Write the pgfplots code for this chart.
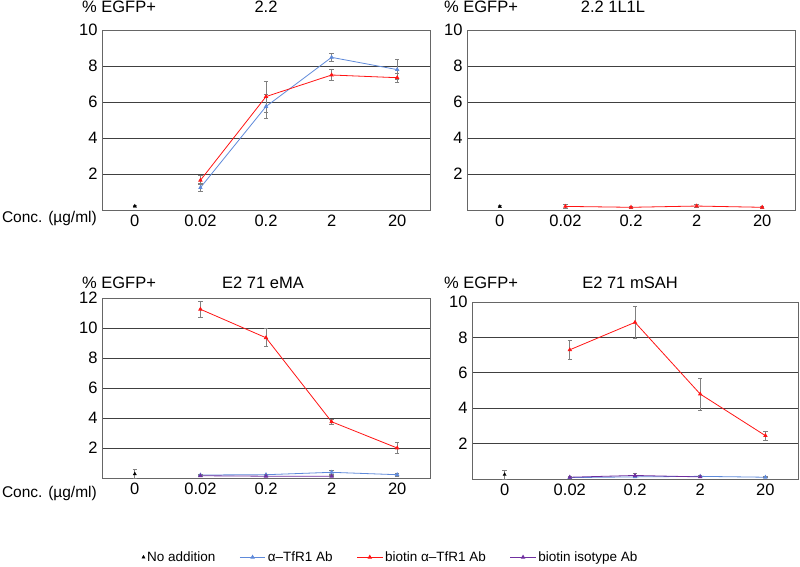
\documentclass[border=0pt]{standalone}
\usepackage{fontspec}
\setmainfont{Liberation Sans}
\usepackage{pgfplots}
\pgfplotsset{compat=1.18}

\definecolor{cblue}{RGB}{95,138,218}
\definecolor{cred}{RGB}{255,20,20}
\definecolor{cpurp}{RGB}{112,48,160}

\pgfplotsset{
 panel/.style={
  scale only axis, width=328pt, height=180pt, anchor=south west,
  xmin=-0.5, xmax=4.5, ymin=0,
  xtick={0,...,4}, xticklabels={0,0.02,0.2,2,20},
  major tick length=0pt,
  ymajorgrids, grid style={black!75, line width=0.8pt},
  axis line style={black!60, line width=0.9pt},
  tick label style={font=\fontsize{16.5}{18}\selectfont},
  /pgf/number format/assume math mode=true,
  xticklabel style={yshift=-1pt},
  yticklabel style={xshift=-1pt},
  clip=false,
  legend image code/.code={\draw[mark repeat=2,mark phase=2,##1] plot coordinates {(0cm,0cm) (0.45cm,0cm) (0.9cm,0cm)};},
 },
 eb/.style={error bars/.cd, y dir=both, y explicit,
   error bar style={black!50, line width=0.7pt},
   error mark options={rotate=90, black!50, mark size=2.2pt, line width=0.7pt}},
 noadd/.style={black, only marks, mark=triangle*, mark size=1.8pt, eb},
 sblue/.style={cblue, line width=0.8pt, mark=triangle*, mark size=1.8pt, eb},
 sred/.style={cred, line width=0.8pt, mark=triangle*, mark size=1.8pt, eb},
 spurp/.style={cpurp, line width=0.8pt, mark=triangle*, mark size=1.8pt, eb},
}

\begin{document}
\begin{tikzpicture}
\path[use as bounding box] (0,0) rectangle (800pt,566pt);
\tikzset{lab/.style={font=\fontsize{16.5}{18}\selectfont, inner sep=0pt}}

% Panel 1: 2.2
\begin{axis}[panel, at={(102pt,356pt)}, ymax=10, ytick={2,4,6,8,10}]
\addplot[noadd] table[y error=e] {
x y e
0 0.22 0.06
};
\addplot[sblue] table[y error=e] {
x y e
1 1.24 0.22
2 5.75 0.65
3 8.48 0.22
4 7.80 0.55
};
\addplot[sred] table[y error=e] {
x y e
1 1.65 0.25
2 6.30 0.85
3 7.50 0.30
4 7.35 0.25
};
\end{axis}

% Panel 2: 2.2 1L1L
\begin{axis}[panel, at={(467pt,356pt)}, ymax=10, ytick={2,4,6,8,10}]
\addplot[noadd] table[y error=e] {
x y e
0 0.20 0.06
};
\addplot[sred] table[y error=e] {
x y e
1 0.20 0.10
2 0.15 0.08
3 0.22 0.10
4 0.15 0.08
};
\end{axis}

% Panel 3: E2 71 eMA
\begin{axis}[panel, at={(102pt,88pt)}, ymax=12, ytick={2,4,6,8,10,12},
  legend columns=4,
  legend style={at={(0.88,-0.44)}, anchor=center, draw=none, fill=none,
    font=\fontsize{13.5}{15}\selectfont,
    /tikz/every even column/.append style={column sep=22pt}}]
\addplot[noadd] table[y error=e] {
x y e
0 0.27 0.30
};
\addlegendentry{No addition}
\addplot[sblue] table[y error=e] {
x y e
1 0.20 0.05
2 0.22 0.05
3 0.38 0.15
4 0.22 0.12
};
\addlegendentry{α–TfR1 Ab}
\addplot[sred] table[y error=e] {
x y e
1 11.25 0.55
2 9.35 0.60
3 3.75 0.15
4 2.00 0.35
};
\addlegendentry{biotin α–TfR1 Ab}
\addplot[spurp] table[y error=e] {
x y e
1 0.15 0.03
2 0.12 0.03
3 0.12 0.03
};
\addlegendentry{biotin isotype Ab}
\end{axis}

% Panel 4: E2 71 mSAH
\begin{axis}[panel, at={(472pt,87pt)}, width=326pt, height=177pt, ymax=10, ytick={2,4,6,8,10}]
\addplot[noadd] table[y error=e] {
x y e
0 0.25 0.25
};
\addplot[sblue] table[y error=e] {
x y e
1 0.08 0.03
2 0.12 0.05
3 0.15 0.05
4 0.10 0.03
};
\addplot[sred] table[y error=e] {
x y e
1 7.30 0.55
2 8.85 0.90
3 4.80 0.90
4 2.45 0.25
};
\addplot[spurp] table[y error=e] {
x y e
1 0.10 0.03
2 0.20 0.10
3 0.12 0.05
};
\end{axis}

% Titles and labels
\node[lab] at (119pt,559pt) {\% EGFP+};
\node[lab] at (266pt,559pt) {2.2};
\node[lab] at (481pt,559pt) {\% EGFP+};
\node[lab] at (613pt,559pt) {2.2 1L1L};
\node[lab] at (119pt,283pt) {\% EGFP+};
\node[lab] at (263pt,283pt) {E2 71 eMA};
\node[lab] at (481pt,283pt) {\% EGFP+};
\node[lab] at (630pt,283pt) {E2 71 mSAH};
\node[lab, anchor=east, font=\fontsize{15.5}{18}\selectfont] at (97pt,348pt) {Conc. (µg/ml)};
\node[lab, anchor=east, font=\fontsize{15.5}{18}\selectfont] at (97pt,73pt) {Conc. (µg/ml)};
\end{tikzpicture}
\end{document}
